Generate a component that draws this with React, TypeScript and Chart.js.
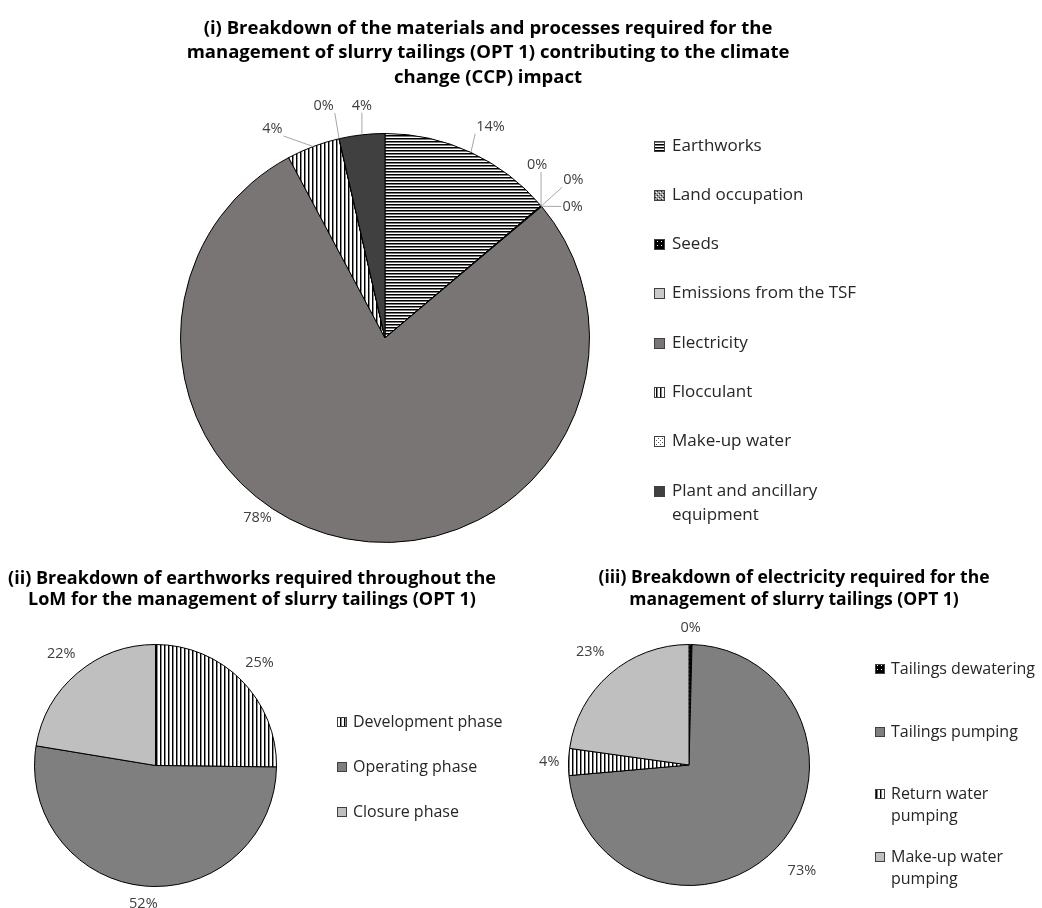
import React, { useEffect, useRef } from "react";
import { Chart, registerables } from "chart.js";

Chart.register(...registerables);

const FONT = "'Open Sans', 'DejaVu Sans', sans-serif";

// ---------- (i) materials and processes, CCP impact ----------
const ccpTitle = [
  "(i) Breakdown of the materials and processes required for the",
  "management of slurry tailings (OPT 1) contributing to the climate",
  "change (CCP) impact",
];
const ccpCategories = [
  "Earthworks",
  "Land occupation",
  "Seeds",
  "Emissions from the TSF",
  "Electricity",
  "Flocculant",
  "Make-up water",
  "Plant and ancillary equipment",
];
const ccpLegendLines = [
  ["Earthworks"],
  ["Land occupation"],
  ["Seeds"],
  ["Emissions from the TSF"],
  ["Electricity"],
  ["Flocculant"],
  ["Make-up water"],
  ["Plant and ancillary", "equipment"],
];
const ccpValues = [13.8, 0.03, 0.02, 0.04, 78.3, 4.2, 0.01, 3.6];

// ---------- (ii) earthworks ----------
const earthTitle = [
  "(ii) Breakdown of earthworks required throughout the",
  "LoM for the management of slurry tailings (OPT 1)",
];
const earthCategories = ["Development phase", "Operating phase", "Closure phase"];
const earthValues = [25.2, 52.4, 22.4];

// ---------- (iii) electricity ----------
const elecTitle = [
  "(iii) Breakdown of electricity required for the",
  "management of slurry tailings (OPT 1)",
];
const elecCategories = [
  "Tailings dewatering",
  "Tailings pumping",
  "Return water pumping",
  "Make-up water pumping",
];
const elecLegendLines = [
  ["Tailings dewatering"],
  ["Tailings pumping"],
  ["Return water", "pumping"],
  ["Make-up water", "pumping"],
];
const elecValues = [0.4, 73.2, 3.6, 22.8];

// ---------- fills ----------
function tile(w: number, h: number, draw: (c: CanvasRenderingContext2D) => void) {
  const c = document.createElement("canvas");
  c.width = w;
  c.height = h;
  const x = c.getContext("2d")!;
  draw(x);
  return x.createPattern(c, "repeat") as CanvasPattern;
}
function makeFills() {
  const hStripe = tile(3, 3, (c) => {
    c.fillStyle = "#fff"; c.fillRect(0, 0, 3, 3);
    c.fillStyle = "#000"; c.fillRect(0, 0, 3, 1);
    c.fillStyle = "#7a7a7a"; c.fillRect(0, 1, 3, 1);
  });
  const vStripe = tile(4, 4, (c) => {
    c.fillStyle = "#fff"; c.fillRect(0, 0, 4, 4);
    c.fillStyle = "#000"; c.fillRect(0, 0, 1, 4);
    c.fillStyle = "#8a8a8a"; c.fillRect(1, 0, 1, 4);
  });
  const land = tile(4, 4, (c) => {
    c.fillStyle = "#9a9a9a"; c.fillRect(0, 0, 4, 4);
    c.fillStyle = "#fff"; c.fillRect(0, 0, 1, 1); c.fillRect(2, 2, 1, 1);
    c.fillStyle = "#222"; c.fillRect(1, 3, 1, 1); c.fillRect(3, 1, 1, 1);
  });
  const seeds = tile(4, 4, (c) => {
    c.fillStyle = "#000"; c.fillRect(0, 0, 4, 4);
    c.fillStyle = "#fff"; c.fillRect(1, 1, 1, 1);
  });
  const makeup = tile(4, 4, (c) => {
    c.fillStyle = "#fff"; c.fillRect(0, 0, 4, 4);
    c.fillStyle = "#555"; c.fillRect(0, 0, 1, 1); c.fillRect(2, 2, 1, 1);
  });
  return { hStripe, vStripe, land, seeds, makeup };
}

// ---------- plugin: titles, value labels, legend ----------
const extrasPlugin = {
  id: "extras",
  afterDraw(chart: any, _args: any, o: any) {
    const ctx: CanvasRenderingContext2D = chart.ctx;
    ctx.save();
    // title
    ctx.fillStyle = "#000";
    ctx.font = `bold ${o.titleSize}px ${FONT}`;
    ctx.textAlign = "center";
    ctx.textBaseline = "middle";
    (o.title as string[]).forEach((line, i) =>
      ctx.fillText(line, o.titleX, o.titleY + i * o.titleLineH)
    );

    // value labels
    const meta = chart.getDatasetMeta(0);
    const data = chart.data.datasets[0].data as number[];
    const total = data.reduce((a, b) => a + b, 0);
    ctx.font = `${o.labelSize}px ${FONT}`;
    meta.data.forEach((el: any, i: number) => {
      const p = el.getProps(["x", "y", "startAngle", "endAngle", "outerRadius"], true);
      const mid = (p.startAngle + p.endAngle) / 2;
      const ang =
        o.labelAngles && o.labelAngles[i] != null
          ? ((o.labelAngles[i] - 90) * Math.PI) / 180
          : mid;
      const text = Math.round((data[i] / total) * 100) + "%";
      const w = ctx.measureText(text).width;
      const h = o.labelSize;
      const ext = (Math.abs(Math.cos(ang)) * w) / 2 + (Math.abs(Math.sin(ang)) * h) / 2;
      const gap = Array.isArray(o.labelGap) ? o.labelGap[i] : o.labelGap;
      const d = p.outerRadius + gap + ext;
      const cx = p.x + d * Math.cos(ang);
      const cy = p.y + d * Math.sin(ang);
      if (o.leaders && o.leaders[i]) {
        const ex = p.x + p.outerRadius * Math.cos(mid);
        const ey = p.y + p.outerRadius * Math.sin(mid);
        const bx = Math.max(cx - w / 2 - 1, Math.min(ex, cx + w / 2 + 1));
        const by = Math.max(cy - h / 2, Math.min(ey, cy + h / 2));
        ctx.strokeStyle = "#a6a6a6";
        ctx.lineWidth = 1;
        ctx.beginPath();
        ctx.moveTo(ex, ey);
        ctx.lineTo(bx, by);
        ctx.stroke();
      }
      ctx.fillStyle = "#404040";
      ctx.textAlign = "center";
      ctx.textBaseline = "middle";
      ctx.fillText(text, cx, cy);
    });

    // legend
    const fills = chart.data.datasets[0].backgroundColor as any[];
    ctx.font = `${o.legendSize}px ${FONT}`;
    (o.legend as string[][]).forEach((lines, i) => {
      const y = Math.round(o.legendY + i * o.legendStep);
      const bs = o.boxSize;
      const by = Math.round(y - bs / 2);
      ctx.fillStyle = fills[i];
      ctx.fillRect(o.boxX, by, bs, bs);
      ctx.strokeStyle = "#404040";
      ctx.lineWidth = 1;
      ctx.strokeRect(o.boxX + 0.5, by + 0.5, bs - 1, bs - 1);
      ctx.fillStyle = "#262626";
      ctx.textAlign = "left";
      ctx.textBaseline = "middle";
      lines.forEach((t, j) => ctx.fillText(t, o.textX, y + j * o.legendLineH));
    });
    ctx.restore();
  },
};

function pieConfig(
  labels: string[],
  values: number[],
  fills: any[],
  padding: any,
  extras: any
): any {
  return {
    type: "pie",
    data: {
      labels,
      datasets: [
        {
          data: values,
          backgroundColor: fills,
          borderColor: "#000",
          borderWidth: 1,
        },
      ],
    },
    options: {
      responsive: false,
      maintainAspectRatio: false,
      animation: false,
      layout: { padding },
      plugins: {
        legend: { display: false },
        tooltip: { enabled: false },
        title: { display: false },
        extras,
      },
    },
    plugins: [extrasPlugin],
  };
}

export default function App() {
  const refA = useRef<HTMLCanvasElement>(null);
  const refB = useRef<HTMLCanvasElement>(null);
  const refC = useRef<HTMLCanvasElement>(null);

  useEffect(() => {
    const f = makeFills();
    const ccpFills = [f.hStripe, f.land, f.seeds, "#c9c9c9", "#7a7575", f.vStripe, f.makeup, "#404040"];
    const earthFills = [f.vStripe, "#7f7f7f", "#bfbfbf"];
    const elecFills = [f.seeds, "#7f7f7f", f.vStripe, "#bfbfbf"];

    const a = new Chart(
      refA.current!,
      pieConfig(ccpCategories, ccpValues, ccpFills, { left: 180, right: 452, top: 133, bottom: 17 }, {
        title: ccpTitle,
        titleX: 488,
        titleY: 28.5,
        titleLineH: 24.5,
        titleSize: 18.5,
        labelSize: 14.5,
        labelAngles: [26.5, 41.3, 50, 55, 215.4, 331.7, 345.2, 354.3],
        labelGap: [19, 14, 29, 12, 1.5, 22, 26, 21],
        leaders: [true, true, true, true, false, true, true, true],
        legend: ccpLegendLines,
        legendY: 145.5,
        legendStep: 49.3,
        legendLineH: 24,
        legendSize: 17,
        boxX: 654,
        boxSize: 11,
        textX: 672,
      })
    );
    const b = new Chart(
      refB.current!,
      pieConfig(earthCategories, earthValues, earthFills, { left: 34, right: 243, top: 84, bottom: 21 }, {
        title: earthTitle,
        titleX: 252,
        titleY: 18.5,
        titleLineH: 21.5,
        titleSize: 18,
        labelSize: 14.5,
        labelAngles: null,
        labelGap: [10, 9, 10],
        leaders: null,
        legend: earthCategories.map((c) => [c]),
        legendY: 162.3,
        legendStep: 44.7,
        legendLineH: 22,
        legendSize: 16,
        boxX: 337,
        boxSize: 10,
        textX: 353,
      })
    );
    const c = new Chart(
      refC.current!,
      pieConfig(elecCategories, elecValues, elecFills, { left: 48, right: 232, top: 84, bottom: 22 }, {
        title: elecTitle,
        titleX: 274,
        titleY: 18.5,
        titleLineH: 21.5,
        titleSize: 17.5,
        labelSize: 14.5,
        labelAngles: null,
        labelGap: [9, 19, 9, 15],
        leaders: null,
        legend: elecLegendLines,
        legendY: 109.3,
        legendStep: 62.5,
        legendLineH: 22.5,
        legendSize: 16,
        boxX: 355,
        boxSize: 10,
        textX: 371,
      })
    );
    return () => {
      a.destroy();
      b.destroy();
      c.destroy();
    };
  }, []);

  return (
    <div style={{ position: "absolute", left: 0, top: 0, width: 1042, height: 908, background: "#fff" }}>
      <canvas ref={refA} width={1042} height={560} style={{ position: "absolute", left: 0, top: 0 }} />
      <canvas ref={refB} width={520} height={348} style={{ position: "absolute", left: 0, top: 560 }} />
      <canvas ref={refC} width={522} height={348} style={{ position: "absolute", left: 520, top: 560 }} />
    </div>
  );
}
